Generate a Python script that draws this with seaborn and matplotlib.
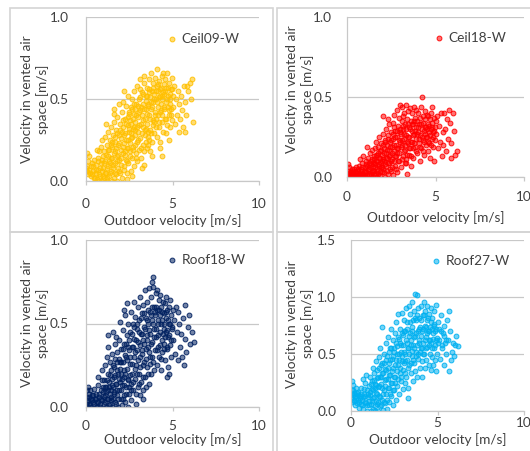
import numpy as np
import pandas as pd
import matplotlib
matplotlib.use("Agg")
import matplotlib.pyplot as plt
import seaborn as sns
from matplotlib.patches import Rectangle
from matplotlib.colors import to_rgba

# ---------------- data ----------------
ceil09_pts = [
    (0.0,0.06),(0.02,0.08),(0.05,0.09),(0.05,0.17),(0.08,0.06),(0.1,0.04),(0.12,0.12),(0.15,0.07),(0.2,0.15),(0.22,0.05),
    (0.28,0.09),(0.3,0.03),(0.35,0.11),(0.4,0.06),(0.45,0.02),(0.48,0.13),
    (0.55,0.05),(0.6,0.1),(0.62,0.01),(0.65,0.19),(0.7,0.14),(0.72,0.07),(0.75,0.0),(0.78,0.18),(0.8,0.03),(0.85,0.11),
    (0.88,0.21),(0.9,0.06),(0.92,0.25),(0.95,0.0),(0.98,0.15),
    (1.0,0.08),(1.03,0.02),(1.05,0.18),(1.1,0.27),(1.12,0.12),(1.15,0.05),(1.18,0.35),(1.2,0.22),(1.22,0.0),(1.25,0.15),
    (1.28,0.09),(1.3,0.3),(1.33,0.03),(1.35,0.19),(1.38,0.25),(1.4,0.11),(1.42,0.06),(1.45,0.33),(1.48,0.0),(1.5,0.21),
    (1.52,0.14),(1.55,0.08),(1.58,0.28),(1.6,0.02),(1.6,0.44),(1.62,0.36),(1.63,0.41),(1.65,0.18),(1.68,0.11),(1.7,0.24),
    (1.72,0.04),(1.75,0.31),(1.78,0.15),(1.8,0.39),(1.82,0.0),(1.85,0.22),(1.87,0.08),(1.88,0.47),(1.9,0.28),(1.92,0.13),
    (1.95,0.35),(1.97,0.05),(2.0,0.19),
    (2.02,0.26),(2.05,0.1),(2.08,0.42),(2.1,0.02),(2.12,0.33),(2.15,0.17),(2.15,0.48),(2.18,0.55),(2.2,0.23),(2.22,0.07),
    (2.25,0.38),(2.27,0.16),(2.28,0.29),(2.3,0.13),(2.32,0.46),(2.35,0.2),(2.35,0.05),(2.38,0.01),(2.4,0.34),(2.42,0.25),
    (2.45,0.11),(2.45,0.52),(2.48,0.41),(2.5,0.3),
    (2.52,0.18),(2.55,0.37),(2.58,0.06),(2.58,0.29),(2.6,0.45),(2.62,0.26),(2.65,0.14),(2.66,0.03),(2.68,0.5),(2.7,0.32),
    (2.72,0.21),(2.75,0.41),(2.76,0.33),(2.78,0.09),(2.8,0.55),(2.82,0.28),(2.84,0.44),(2.85,0.36),(2.88,0.17),(2.9,0.47),
    (2.92,0.24),(2.95,0.58),(2.97,0.12),(3.0,0.39),
    (3.02,0.3),(3.05,0.5),(3.08,0.19),(3.1,0.43),(3.12,0.62),(3.15,0.26),(3.15,0.56),(3.18,0.35),(3.2,0.14),(3.22,0.54),
    (3.25,0.4),(3.26,0.08),(3.28,0.22),(3.3,0.47),(3.32,0.33),(3.35,0.6),(3.36,0.64),(3.38,0.1),(3.4,0.38),(3.42,0.28),
    (3.44,0.32),(3.45,0.52),(3.48,0.44),(3.5,0.2),
    (3.52,0.57),(3.55,0.35),(3.56,0.22),(3.58,0.46),(3.6,0.27),(3.62,0.62),(3.65,0.4),(3.66,0.56),(3.68,0.18),(3.7,0.51),
    (3.72,0.31),(3.75,0.66),(3.78,0.44),(3.8,0.24),(3.82,0.55),(3.84,0.15),(3.85,0.37),(3.88,0.6),(3.9,0.48),(3.92,0.29),
    (3.94,0.36),(3.95,0.53),(3.98,0.42),(4.0,0.63),
    (4.02,0.5),(4.05,0.38),(4.08,0.58),(4.1,0.27),(4.12,0.68),(4.15,0.45),(4.18,0.55),(4.2,0.33),(4.22,0.61),(4.25,0.42),
    (4.26,0.2),(4.28,0.52),(4.3,0.24),(4.32,0.57),(4.35,0.47),(4.38,0.64),(4.4,0.36),(4.4,0.15),(4.42,0.5),(4.45,0.3),
    (4.46,0.66),(4.48,0.59),(4.5,0.44),
    (4.52,0.53),(4.55,0.38),(4.58,0.62),(4.6,0.29),(4.62,0.48),(4.65,0.57),(4.68,0.34),(4.7,0.66),(4.72,0.45),(4.75,0.52),
    (4.78,0.25),(4.8,0.6),(4.82,0.4),(4.85,0.5),(4.88,0.33),(4.9,0.56),(4.92,0.44),(4.95,0.63),(4.98,0.37),(5.0,0.52),
    (5.05,0.45),(5.1,0.58),(5.15,0.35),(5.2,0.5),(5.25,0.4),(5.3,0.55),(5.35,0.3),(5.4,0.47),(5.45,0.38),(5.5,0.52),
    (5.55,0.43),(5.6,0.33),(5.65,0.58),(5.7,0.48),(5.75,0.3),(5.8,0.4),(5.85,0.58),(5.9,0.55),(6.0,0.6),(6.05,0.5),
    (6.1,0.62),(6.2,0.36),
]
ceil09_core = [
    (0.32,0.04),(0.41,0.09),(0.53,0.02),(0.58,0.07),(0.67,0.12),(0.74,0.04),(0.83,0.08),(0.91,0.13),(0.97,0.03),
    (1.04,0.11),(1.08,0.05),(1.14,0.16),(1.19,0.08),(1.24,0.02),(1.29,0.19),(1.34,0.12),(1.39,0.05),(1.44,0.22),(1.47,0.14),
    (1.53,0.24),(1.57,0.1),(1.61,0.17),(1.66,0.27),(1.69,0.05),(1.73,0.2),(1.77,0.12),(1.81,0.29),(1.84,0.16),(1.89,0.06),
    (1.93,0.23),(1.98,0.31),
    (2.03,0.14),(2.07,0.3),(2.11,0.21),(2.14,0.37),(2.17,0.09),(2.21,0.28),(2.24,0.18),(2.29,0.35),(2.33,0.25),(2.37,0.12),
    (2.41,0.39),(2.44,0.2),(2.49,0.32),
    (2.51,0.42),(2.54,0.23),(2.57,0.15),(2.61,0.35),(2.64,0.44),(2.67,0.27),(2.71,0.19),(2.74,0.38),(2.77,0.47),(2.81,0.31),
    (2.83,0.22),(2.87,0.4),(2.91,0.14),(2.94,0.33),(2.99,0.46),
    (3.03,0.25),(3.06,0.42),(3.09,0.34),(3.13,0.51),(3.16,0.2),(3.19,0.45),(3.23,0.29),(3.27,0.37),(3.31,0.53),(3.34,0.18),
    (3.37,0.44),(3.41,0.31),(3.46,0.49),(3.49,0.24),
    (3.51,0.41),(3.54,0.52),(3.57,0.3),(3.61,0.47),(3.64,0.25),(3.67,0.54),(3.71,0.38),(3.74,0.48),(3.77,0.29),(3.81,0.45),
    (3.86,0.57),(3.89,0.34),(3.93,0.5),(3.97,0.4),
    (4.03,0.55),(4.07,0.33),(4.11,0.48),(4.14,0.59),(4.17,0.4),(4.21,0.51),(4.24,0.36),(4.29,0.56),(4.33,0.43),(4.37,0.52),
    (4.41,0.4),(4.47,0.54),
    (4.53,0.45),(4.57,0.55),(4.63,0.38),(4.67,0.5),(4.73,0.57),(4.77,0.43),(4.83,0.53),(4.87,0.47),(4.93,0.4),(4.97,0.56),
]

ceil18_pts = [
    (0.0,0.01),(0.03,0.04),(0.06,0.0),(0.08,0.08),(0.1,0.02),(0.12,0.06),(0.15,0.01),(0.2,0.03),(0.25,0.0),(0.28,0.05),
    (0.3,0.02),(0.35,0.04),(0.4,0.0),(0.45,0.03),(0.5,0.06),
    (0.55,0.01),(0.6,0.04),(0.65,0.0),(0.7,0.07),(0.72,0.11),(0.75,0.02),(0.8,0.05),(0.85,0.09),(0.88,0.13),(0.9,0.0),
    (0.95,0.03),(1.0,0.06),
    (1.02,0.0),(1.05,0.1),(1.1,0.03),(1.13,0.19),(1.15,0.07),(1.2,0.12),(1.22,0.01),(1.25,0.05),(1.3,0.15),(1.33,0.08),
    (1.35,0.02),(1.4,0.11),(1.42,0.17),(1.45,0.04),(1.48,0.0),(1.5,0.09),
    (1.52,0.13),(1.55,0.02),(1.58,0.18),(1.6,0.06),(1.62,0.1),(1.65,0.22),(1.68,0.0),(1.7,0.14),(1.72,0.04),(1.75,0.19),
    (1.78,0.08),(1.8,0.12),(1.82,0.25),(1.85,0.01),(1.88,0.16),(1.9,0.06),(1.92,0.21),(1.95,0.1),(1.98,0.03),(2.0,0.14),
    (2.02,0.27),(2.05,0.05),(2.06,0.38),(2.08,0.18),(2.1,0.1),(2.12,0.23),(2.15,0.0),(2.18,0.15),(2.2,0.3),(2.22,0.07),
    (2.25,0.2),(2.28,0.12),(2.3,0.26),(2.3,0.36),(2.32,0.02),(2.35,0.17),(2.38,0.33),(2.4,0.09),(2.42,0.22),(2.45,0.14),
    (2.48,0.04),(2.5,0.28),
    (2.52,0.19),(2.55,0.11),(2.58,0.34),(2.6,0.01),(2.62,0.24),(2.65,0.16),(2.66,0.31),(2.68,0.39),(2.7,0.07),(2.72,0.29),
    (2.75,0.2),(2.78,0.13),(2.8,0.42),(2.82,0.25),(2.84,0.15),(2.85,0.03),(2.88,0.32),(2.9,0.18),(2.92,0.1),(2.95,0.37),
    (2.98,0.22),(3.0,0.45),
    (3.02,0.28),(3.05,0.06),(3.08,0.35),(3.1,0.2),(3.12,0.44),(3.15,0.13),(3.15,0.38),(3.18,0.3),(3.2,0.24),(3.22,0.4),
    (3.25,0.09),(3.28,0.33),(3.3,0.17),(3.32,0.45),(3.35,0.26),(3.36,0.11),(3.38,0.36),(3.4,0.02),(3.42,0.21),(3.45,0.41),
    (3.48,0.14),(3.5,0.31),
    (3.52,0.25),(3.55,0.43),(3.58,0.18),(3.6,0.35),(3.62,0.07),(3.65,0.29),(3.68,0.4),(3.7,0.22),(3.72,0.33),(3.75,0.12),
    (3.78,0.44),(3.8,0.27),(3.82,0.37),(3.85,0.19),(3.88,0.31),(3.9,0.42),(3.92,0.24),(3.95,0.15),(3.98,0.35),(4.0,0.28),
    (4.02,0.4),(4.05,0.21),(4.08,0.33),(4.1,0.1),(4.12,0.37),(4.15,0.26),(4.18,0.44),(4.2,0.18),(4.22,0.5),(4.25,0.3),
    (4.28,0.38),(4.3,0.23),(4.32,0.34),(4.35,0.14),(4.38,0.41),(4.4,0.27),(4.42,0.36),(4.45,0.2),(4.48,0.31),(4.5,0.39),
    (4.52,0.25),(4.55,0.33),(4.58,0.16),(4.6,0.38),(4.62,0.28),(4.65,0.21),(4.68,0.36),(4.7,0.12),(4.72,0.3),(4.75,0.4),
    (4.78,0.24),(4.8,0.44),(4.82,0.34),(4.85,0.19),(4.88,0.28),(4.9,0.37),(4.92,0.1),(4.95,0.31),(4.98,0.23),(5.0,0.35),
    (5.05,0.27),(5.1,0.38),(5.15,0.18),(5.2,0.32),(5.25,0.22),(5.3,0.4),(5.35,0.13),(5.4,0.28),(5.45,0.2),(5.5,0.4),
    (5.55,0.3),(5.6,0.16),(5.65,0.36),(5.7,0.24),(5.75,0.42),(5.8,0.34),(5.85,0.12),(5.9,0.21),(6.0,0.4),(6.05,0.29),
    (6.1,0.14),(6.2,0.16),
]
ceil18_core = [
    (0.04,0.02),(0.11,0.0),(0.18,0.03),(0.23,0.01),(0.33,0.02),(0.38,0.05),(0.47,0.01),(0.52,0.03),(0.58,0.0),(0.63,0.05),
    (0.68,0.02),(0.77,0.04),(0.82,0.01),(0.87,0.06),(0.93,0.02),(0.98,0.0),
    (1.04,0.04),(1.08,0.08),(1.12,0.01),(1.17,0.05),(1.23,0.09),(1.27,0.02),(1.32,0.06),(1.37,0.1),(1.41,0.03),(1.46,0.07),
    (1.51,0.04),(1.54,0.11),(1.57,0.01),(1.61,0.08),(1.64,0.14),(1.67,0.05),(1.71,0.1),(1.74,0.02),(1.77,0.15),(1.81,0.07),
    (1.84,0.12),(1.87,0.03),(1.91,0.09),(1.94,0.17),(1.97,0.06),
    (2.01,0.11),(2.04,0.2),(2.07,0.03),(2.11,0.15),(2.14,0.08),(2.17,0.22),(2.21,0.12),(2.24,0.04),(2.27,0.17),(2.31,0.09),
    (2.34,0.24),(2.37,0.13),(2.41,0.05),(2.44,0.19),(2.47,0.1),
    (2.51,0.23),(2.54,0.06),(2.57,0.15),(2.61,0.27),(2.64,0.1),(2.67,0.2),(2.71,0.13),(2.74,0.25),(2.77,0.05),(2.81,0.18),
    (2.83,0.29),(2.87,0.1),(2.91,0.23),(2.94,0.15),(2.97,0.3),
    (3.03,0.19),(3.06,0.27),(3.09,0.11),(3.13,0.23),(3.17,0.32),(3.21,0.16),(3.24,0.27),(3.27,0.2),(3.31,0.09),(3.34,0.3),
    (3.37,0.22),(3.41,0.14),(3.44,0.33),(3.47,0.25),
    (3.53,0.18),(3.57,0.3),(3.61,0.22),(3.64,0.13),(3.67,0.33),(3.71,0.26),(3.74,0.18),(3.77,0.35),(3.81,0.21),(3.86,0.29),
    (3.91,0.16),(3.96,0.27),
    (4.03,0.31),(4.07,0.24),(4.13,0.19),(4.17,0.33),(4.23,0.25),(4.27,0.16),(4.33,0.29),(4.37,0.22),(4.43,0.31),(4.47,0.25),
    (4.53,0.3),(4.57,0.22),(4.63,0.32),(4.67,0.26),(4.74,0.2),(4.79,0.31),(4.86,0.25),(4.93,0.29),
]

roof18_pts = [
    (0.0,0.02),(0.03,0.06),(0.05,0.1),(0.06,0.0),(0.1,0.04),(0.13,0.12),(0.15,0.08),(0.2,0.02),(0.22,0.1),(0.28,0.05),
    (0.3,0.0),(0.35,0.07),(0.4,0.03),(0.45,0.11),(0.5,0.05),
    (0.55,0.0),(0.6,0.08),(0.65,0.03),(0.68,0.18),(0.7,0.13),(0.75,0.06),(0.8,0.0),(0.85,0.1),(0.9,0.16),(0.92,0.22),
    (0.95,0.04),(1.0,0.12),
    (1.02,0.02),(1.05,0.16),(1.08,0.07),(1.1,0.25),(1.15,0.0),(1.18,0.12),(1.2,0.3),(1.22,0.05),(1.25,0.2),(1.25,0.43),
    (1.28,0.1),(1.3,0.36),(1.33,0.01),(1.35,0.15),(1.38,0.27),(1.4,0.08),(1.42,0.22),(1.45,0.04),(1.48,0.32),(1.5,0.13),
    (1.52,0.0),(1.55,0.25),(1.58,0.45),(1.6,0.09),(1.62,0.18),(1.65,0.38),(1.68,0.03),(1.7,0.29),(1.72,0.14),(1.75,0.42),
    (1.78,0.07),(1.8,0.22),(1.82,0.33),(1.85,0.0),(1.88,0.17),(1.9,0.4),(1.92,0.1),(1.95,0.27),(1.97,0.51),(2.0,0.05),
    (2.02,0.2),(2.05,0.35),(2.08,0.01),(2.1,0.13),(2.12,0.46),(2.15,0.27),(2.18,0.07),(2.2,0.38),(2.2,0.58),(2.22,0.18),
    (2.25,0.55),(2.28,0.03),(2.3,0.3),(2.32,0.12),(2.35,0.43),(2.36,0.62),(2.38,0.23),(2.4,0.0),(2.42,0.5),(2.45,0.16),
    (2.48,0.34),(2.5,0.08),
    (2.52,0.26),(2.55,0.45),(2.58,0.14),(2.6,0.57),(2.62,0.04),(2.65,0.36),(2.68,0.2),(2.7,0.5),(2.72,0.1),(2.75,0.3),
    (2.78,0.63),(2.8,0.41),(2.82,0.17),(2.85,0.54),(2.88,0.02),(2.9,0.25),(2.92,0.47),(2.95,0.34),(2.98,0.12),(3.0,0.6),
    (3.02,0.39),(3.05,0.2),(3.08,0.52),(3.1,0.07),(3.12,0.3),(3.15,0.66),(3.18,0.44),(3.2,0.15),(3.22,0.56),(3.25,0.34),
    (3.28,0.25),(3.28,0.1),(3.3,0.61),(3.32,0.05),(3.35,0.48),(3.38,0.38),(3.4,0.7),(3.42,0.18),(3.45,0.53),(3.48,0.29),
    (3.5,0.43),
    (3.52,0.63),(3.55,0.24),(3.58,0.5),(3.6,0.36),(3.62,0.71),(3.65,0.14),(3.68,0.57),(3.7,0.44),(3.72,0.3),(3.75,0.66),
    (3.78,0.2),(3.8,0.52),(3.8,0.75),(3.82,0.39),(3.85,0.72),(3.88,0.27),(3.9,0.78),(3.92,0.47),(3.95,0.6),(3.98,0.34),
    (4.0,0.55),
    (4.02,0.68),(4.05,0.42),(4.08,0.25),(4.1,0.58),(4.12,0.7),(4.15,0.36),(4.18,0.5),(4.2,0.64),(4.22,0.3),(4.25,0.55),
    (4.28,0.45),(4.3,0.67),(4.32,0.22),(4.35,0.6),(4.38,0.4),(4.4,0.52),(4.42,0.33),(4.45,0.63),(4.48,0.47),(4.5,0.56),
    (4.52,0.38),(4.55,0.62),(4.58,0.28),(4.6,0.53),(4.62,0.45),(4.65,0.66),(4.66,0.18),(4.68,0.35),(4.7,0.58),(4.72,0.42),
    (4.75,0.24),(4.78,0.6),(4.8,0.5),(4.82,0.2),(4.85,0.64),(4.88,0.37),(4.9,0.55),(4.92,0.3),(4.95,0.47),(5.0,0.58),
    (5.05,0.4),(5.1,0.52),(5.15,0.32),(5.2,0.6),(5.25,0.45),(5.3,0.28),(5.34,0.57),(5.4,0.5),(5.45,0.36),(5.5,0.44),
    (5.55,0.3),(5.6,0.53),(5.65,0.25),(5.7,0.61),(5.75,0.41),(5.8,0.33),(5.9,0.48),(5.95,0.55),(6.0,0.38),(6.1,0.45),
    (6.26,0.39),
]
roof18_core = [
    (0.08,0.03),(0.17,0.06),(0.25,0.01),(0.33,0.04),(0.42,0.07),(0.48,0.02),(0.57,0.05),(0.63,0.0),(0.72,0.03),(0.78,0.08),
    (0.83,0.02),(0.88,0.05),(0.97,0.09),
    (1.03,0.06),(1.07,0.12),(1.12,0.03),(1.17,0.09),(1.21,0.16),(1.26,0.05),(1.31,0.12),(1.36,0.02),(1.39,0.19),(1.43,0.1),
    (1.47,0.06),
    (1.51,0.17),(1.54,0.05),(1.57,0.12),(1.61,0.24),(1.64,0.08),(1.67,0.19),(1.71,0.02),(1.74,0.14),(1.77,0.27),(1.81,0.1),
    (1.84,0.2),(1.87,0.05),(1.91,0.29),(1.94,0.15),(1.98,0.23),
    (2.01,0.1),(2.04,0.27),(2.07,0.17),(2.11,0.35),(2.14,0.05),(2.17,0.22),(2.21,0.13),(2.24,0.31),(2.27,0.2),(2.31,0.38),
    (2.34,0.08),(2.37,0.28),(2.41,0.17),(2.44,0.36),(2.47,0.12),
    (2.51,0.4),(2.54,0.19),(2.57,0.3),(2.61,0.1),(2.64,0.44),(2.67,0.26),(2.71,0.36),(2.74,0.15),(2.77,0.48),(2.81,0.23),
    (2.84,0.33),(2.87,0.08),(2.91,0.4),(2.94,0.2),(2.97,0.5),
    (3.01,0.28),(3.04,0.45),(3.07,0.14),(3.11,0.37),(3.14,0.24),(3.17,0.53),(3.21,0.32),(3.24,0.44),(3.27,0.18),(3.31,0.4),
    (3.34,0.56),(3.37,0.27),(3.41,0.47),(3.44,0.35),(3.47,0.12),
    (3.51,0.52),(3.54,0.4),(3.57,0.2),(3.61,0.58),(3.64,0.33),(3.67,0.46),(3.71,0.26),(3.74,0.55),(3.77,0.38),(3.81,0.6),
    (3.84,0.3),(3.87,0.5),(3.91,0.22),(3.94,0.42),(3.97,0.57),
    (4.03,0.47),(4.07,0.6),(4.11,0.34),(4.14,0.52),(4.19,0.43),(4.23,0.58),(4.27,0.37),(4.31,0.5),(4.36,0.29),(4.39,0.57),
    (4.44,0.44),(4.49,0.35),
    (4.53,0.5),(4.57,0.42),(4.61,0.57),(4.67,0.46),(4.71,0.36),(4.76,0.52),(4.81,0.43),(4.87,0.5),(4.93,0.4),(4.98,0.48),
]

roof27_pts = [
    (0.0,0.12),(0.03,0.18),(0.05,0.08),(0.08,0.26),(0.1,0.14),(0.12,0.23),(0.15,0.1),(0.2,0.16),(0.22,0.05),(0.28,0.2),
    (0.3,0.11),(0.35,0.07),(0.4,0.17),(0.45,0.03),(0.5,0.13),
    (0.55,0.06),(0.6,0.2),(0.65,0.1),(0.68,0.28),(0.7,0.02),(0.75,0.15),(0.8,0.25),(0.85,0.07),(0.88,0.32),(0.9,0.18),
    (0.95,0.0),(1.0,0.12),
    (1.02,0.22),(1.05,0.05),(1.1,0.3),(1.12,0.14),(1.15,0.0),(1.2,0.26),(1.22,0.09),(1.25,0.38),(1.28,0.18),(1.3,0.02),
    (1.33,0.33),(1.35,0.12),(1.38,0.24),(1.4,0.0),(1.42,0.44),(1.45,0.16),(1.48,0.29),(1.5,0.06),
    (1.52,0.36),(1.55,0.21),(1.58,0.0),(1.6,0.47),(1.62,0.13),(1.65,0.3),(1.68,0.04),(1.7,0.55),(1.72,0.24),(1.75,0.4),
    (1.78,0.1),(1.8,0.74),(1.82,0.33),(1.85,0.01),(1.88,0.5),(1.9,0.18),(1.92,0.42),(1.95,0.27),(1.98,0.07),(2.0,0.6),
    (2.02,0.36),(2.05,0.15),(2.08,0.48),(2.1,0.02),(2.12,0.28),(2.15,0.65),(2.18,0.2),(2.2,0.42),(2.22,0.08),(2.25,0.55),
    (2.28,0.32),(2.3,0.72),(2.32,0.13),(2.35,0.46),(2.38,0.25),(2.4,0.62),(2.42,0.05),(2.45,0.38),(2.48,0.52),(2.5,0.18),
    (2.52,0.68),(2.55,0.3),(2.58,0.45),(2.6,0.1),(2.62,0.78),(2.65,0.57),(2.68,0.22),(2.7,0.4),(2.72,0.85),(2.75,0.63),
    (2.78,0.15),(2.8,0.5),(2.82,0.33),(2.85,0.72),(2.88,0.26),(2.9,0.58),(2.92,0.86),(2.95,0.44),(2.98,0.19),(3.0,0.67),
    (3.02,0.36),(3.05,0.8),(3.08,0.52),(3.1,0.25),(3.12,0.7),(3.15,0.44),(3.18,0.9),(3.2,0.3),(3.22,0.6),(3.25,0.78),
    (3.28,0.2),(3.3,0.11),(3.32,0.55),(3.35,0.92),(3.38,0.4),(3.4,0.68),(3.42,0.85),(3.45,0.33),(3.48,0.62),(3.5,0.48),
    (3.52,0.96),(3.55,0.74),(3.58,0.26),(3.6,0.58),(3.62,0.88),(3.65,0.42),(3.68,1.03),(3.7,0.66),(3.72,0.35),(3.75,0.8),
    (3.78,0.52),(3.8,1.02),(3.82,0.3),(3.85,0.7),(3.88,0.9),(3.9,0.46),(3.92,0.6),(3.95,0.82),(3.98,0.38),(4.0,0.74),
    (4.02,0.55),(4.05,0.92),(4.08,0.44),(4.1,0.7),(4.12,0.3),(4.15,0.84),(4.18,0.6),(4.2,0.96),(4.22,0.5),(4.25,0.75),
    (4.28,0.38),(4.3,0.88),(4.32,0.65),(4.35,0.45),(4.38,0.8),(4.4,0.56),(4.42,0.92),(4.45,0.7),(4.48,0.4),(4.5,0.62),
    (4.52,0.85),(4.55,0.5),(4.58,0.74),(4.6,0.36),(4.62,0.9),(4.65,0.6),(4.68,0.47),(4.7,0.82),(4.72,0.68),(4.75,0.4),
    (4.78,0.76),(4.8,0.55),(4.82,0.88),(4.85,0.45),(4.88,0.7),(4.9,0.35),(4.92,0.62),(4.94,0.93),(4.96,0.5),(5.0,0.78),
    (5.05,0.6),(5.1,0.72),(5.15,0.46),(5.2,0.84),(5.25,0.55),(5.3,0.68),(5.35,0.4),(5.4,0.75),(5.45,0.6),(5.5,0.5),
    (5.55,0.8),(5.6,0.62),(5.67,0.88),(5.67,0.35),(5.75,0.7),(5.8,0.45),(5.85,0.52),(5.9,0.6),(5.95,0.48),(6.0,0.58),
    (6.05,0.66),(6.2,0.57),
]
roof27_core = [
    (0.06,0.15),(0.14,0.18),(0.18,0.09),(0.25,0.13),(0.33,0.16),(0.38,0.1),(0.43,0.14),(0.48,0.08),(0.53,0.11),(0.58,0.15),
    (0.63,0.05),(0.69,0.12),(0.73,0.19),(0.79,0.08),(0.83,0.13),(0.92,0.05),(0.97,0.15),
    (1.03,0.09),(1.07,0.17),(1.13,0.24),(1.17,0.06),(1.22,0.19),(1.27,0.11),(1.31,0.27),(1.36,0.04),(1.39,0.2),(1.44,0.09),
    (1.47,0.23),
    (1.51,0.15),(1.54,0.3),(1.57,0.08),(1.61,0.22),(1.64,0.38),(1.67,0.12),(1.71,0.3),(1.74,0.05),(1.77,0.2),(1.81,0.42),
    (1.84,0.15),(1.87,0.33),(1.91,0.08),(1.94,0.37),(1.97,0.22),
    (2.01,0.45),(2.04,0.28),(2.07,0.1),(2.11,0.38),(2.14,0.2),(2.17,0.52),(2.21,0.32),(2.24,0.15),(2.27,0.45),(2.31,0.25),
    (2.34,0.55),(2.37,0.35),(2.41,0.18),(2.44,0.48),(2.47,0.3),
    (2.51,0.55),(2.54,0.4),(2.57,0.25),(2.61,0.6),(2.64,0.35),(2.67,0.5),(2.71,0.28),(2.74,0.65),(2.77,0.45),(2.81,0.6),
    (2.84,0.38),(2.87,0.52),(2.91,0.3),(2.94,0.68),(2.97,0.48),
    (3.01,0.58),(3.04,0.42),(3.07,0.7),(3.11,0.5),(3.14,0.33),(3.17,0.62),(3.21,0.45),(3.24,0.72),(3.27,0.55),(3.31,0.38),
    (3.34,0.66),(3.37,0.5),(3.41,0.78),(3.44,0.58),(3.47,0.42),
    (3.51,0.7),(3.54,0.53),(3.57,0.8),(3.61,0.45),(3.64,0.65),(3.67,0.55),(3.71,0.82),(3.74,0.48),(3.77,0.68),(3.81,0.58),
    (3.84,0.84),(3.87,0.5),(3.91,0.72),(3.94,0.62),(3.97,0.52),
    (4.03,0.66),(4.07,0.8),(4.11,0.55),(4.14,0.72),(4.19,0.5),(4.23,0.84),(4.27,0.62),(4.31,0.74),(4.36,0.55),(4.39,0.68),
    (4.44,0.82),(4.49,0.58),
    (4.53,0.7),(4.57,0.62),(4.61,0.78),(4.67,0.55),(4.71,0.72),(4.76,0.63),(4.81,0.75),(4.87,0.58),(4.93,0.72),(4.98,0.64),
    (5.08,0.62),(5.18,0.7),(5.28,0.58),(5.38,0.66),(5.48,0.62),
]

series_names = ["Ceil09-W", "Ceil18-W", "Roof18-W", "Roof27-W"]
series_points = [ceil09_pts + ceil09_core, ceil18_pts + ceil18_core,
                 roof18_pts + roof18_core, roof27_pts + roof27_core]
series_colors = ["#FFC000", "#FF0000", "#002060", "#00B0F0"]
y_limits = [1.0, 1.0, 1.0, 1.5]
y_tick_values = [[0.0, 0.5, 1.0], [0.0, 0.5, 1.0], [0.0, 0.5, 1.0], [0.0, 0.5, 1.0, 1.5]]
x_tick_values = [0, 5, 10]
x_label = "Outdoor velocity [m/s]"
y_label = "Velocity in vented air\nspace [m/s]"

# ---------------- layout (pixels) ----------------
W, H = 530, 451
axes_px = [(86, 259, 17, 181), (347, 524, 17, 177), (86, 259, 240, 407), (351, 524, 240, 411)]
boxes_px = [(10, 8, 273, 232), (277, 8, 532, 232), (10, 232, 273, 453), (277, 232, 532, 453)]
ylab_x_px = [35, 300, 35, 300]
ylab_y_frac = [0.5, 0.55, 0.5, 0.51]
xlab_y_px = [221, 218, 440, 440]
ytick_pad = [12.5, 10.5, 12.5, 10.5]
xtick_pad = [9, 7, 6.0, 1.5]
legend_pos = [(172, 39), (439, 38), (172, 260), (436, 261)]

sns.set_style("white")
plt.rcParams['font.family'] = ['Lato', 'DejaVu Sans']
text_color = "#404040"
grid_color = "#c8c8c8"
font_size = 9.8

fig = plt.figure(figsize=(W / 100, H / 100), dpi=100)

for (bx0, by0, bx1, by1) in boxes_px:
    fig.patches.append(Rectangle((bx0 / W, 1 - by1 / H), (bx1 - bx0) / W, (by1 - by0) / H,
                                 transform=fig.transFigure, fill=False,
                                 edgecolor="#d4d4d4", linewidth=1.2))

for i in range(4):
    x0, x1, yt, yb = axes_px[i]
    ax = fig.add_axes([x0 / W, 1 - yb / H, (x1 - x0) / W, (yb - yt) / H])
    df = pd.DataFrame(series_points[i], columns=["outdoor", "vented"])
    sns.scatterplot(data=df, x="outdoor", y="vented", ax=ax, s=12,
                    color=series_colors[i], linewidth=0.7, label=series_names[i])
    coll = ax.collections[-1]
    coll.set_facecolor(to_rgba(series_colors[i], 0.55))
    coll.set_edgecolor(to_rgba(series_colors[i], 0.9))

    ax.set_xlim(0, 10)
    ax.set_ylim(0, y_limits[i])
    ax.set_xticks(x_tick_values)
    ax.set_xticklabels([str(v) for v in x_tick_values])
    ax.set_yticks(y_tick_values[i])
    ax.set_yticklabels([f"{v:.1f}" for v in y_tick_values[i]])
    ax.grid(axis="y", color=grid_color, linewidth=0.9)
    ax.grid(axis="x", visible=False)
    ax.set_axisbelow(True)
    for side in ["top", "right"]:
        ax.spines[side].set_visible(False)
    for side in ["left", "bottom"]:
        ax.spines[side].set_color(grid_color)
        ax.spines[side].set_linewidth(0.9)
    ax.tick_params(axis="x", length=3, width=0.9, color=grid_color, direction="out",
                   pad=xtick_pad[i], labelsize=font_size, labelcolor=text_color, bottom=True)
    ax.tick_params(axis="y", length=0, pad=ytick_pad[i], labelsize=font_size, labelcolor=text_color)

    ax.set_xlabel(x_label, fontsize=font_size, color=text_color, va="center")
    ax.xaxis.set_label_coords(0.5, (yb - xlab_y_px[i]) / (yb - yt))
    ax.set_ylabel(y_label, fontsize=font_size, color=text_color, va="center", linespacing=1.25)
    ax.yaxis.set_label_coords((ylab_x_px[i] - x0) / (x1 - x0), ylab_y_frac[i])

    lx, ly = legend_pos[i]
    leg = ax.legend(loc="center left",
                    bbox_to_anchor=((lx - 4 - x0) / (x1 - x0), (yb - ly) / (yb - yt)),
                    frameon=False, fontsize=font_size, handlelength=0.6, handletextpad=0.4,
                    borderpad=0, borderaxespad=0, markerscale=1.0)
    for t in leg.get_texts():
        t.set_color(text_color)

fig.savefig("out.png", dpi=100)
